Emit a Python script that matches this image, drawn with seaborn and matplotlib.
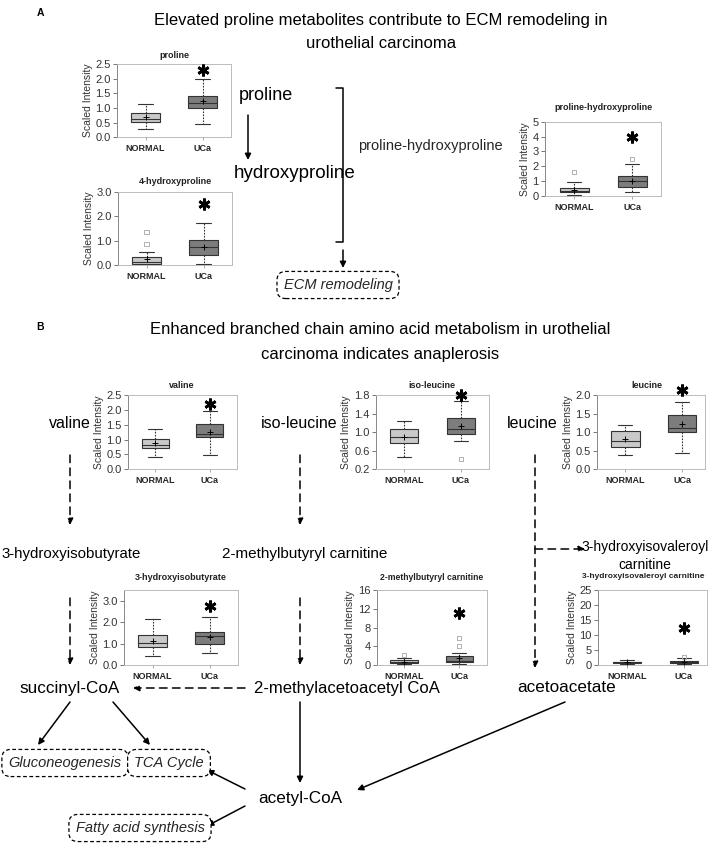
import numpy as np
import pandas as pd
import matplotlib
matplotlib.use('Agg')
import matplotlib.pyplot as plt
import seaborn as sns

# groups and metabolites shown in the small box plots
groups = ['NORMAL', 'UCa']
metabolites = ['proline', '4-hydroxyproline', 'proline-hydroxyproline',
               'valine', 'iso-leucine', 'leucine',
               '3-hydroxyisobutyrate', '2-methylbutyryl carnitine',
               '3-hydroxyisovaleroyl carnitine']

# five-number summaries (whisker low, q1, median, q3, whisker high)
normal_lo = [0.30, 0.02, 0.07, 0.42, 0.46, 0.38, 0.44, 0.14, 0.40]
normal_q1 = [0.52, 0.05, 0.24, 0.71, 0.77, 0.60, 0.83, 0.36, 0.65]
normal_med = [0.61, 0.12, 0.36, 0.81, 0.89, 0.77, 1.05, 0.57, 0.85]
normal_q3 = [0.83, 0.31, 0.53, 1.02, 1.06, 1.03, 1.41, 1.07, 1.10]
normal_hi = [1.14, 0.55, 0.93, 1.36, 1.25, 1.19, 2.16, 1.56, 1.60]
normal_mean = [0.68, 0.23, 0.42, 0.89, 0.89, 0.81, 1.13, 0.64, 0.90]
normal_outliers = [[], [0.85, 1.36], [1.62], [], [], [], [], [2.13], []]

uca_lo = [0.46, 0.04, 0.24, 0.49, 0.80, 0.45, 0.58, 0.14, 0.30]
uca_q1 = [0.99, 0.41, 0.62, 1.08, 0.97, 1.00, 0.98, 0.57, 0.75]
uca_med = [1.18, 0.72, 1.00, 1.20, 1.06, 1.10, 1.36, 0.92, 1.00]
uca_q3 = [1.41, 1.03, 1.33, 1.51, 1.30, 1.46, 1.56, 1.92, 1.45]
uca_hi = [1.98, 1.73, 2.13, 1.96, 1.68, 1.82, 2.23, 2.63, 2.20]
uca_mean = [1.24, 0.75, 1.04, 1.24, 1.13, 1.21, 1.33, 1.42, 1.10]
uca_outliers = [[], [], [2.47], [], [0.42], [], [], [4.05, 5.83], [2.60]]

# significance star height for UCa
star_y = [2.29, 2.50, 4.00, 2.20, 1.80, 2.13, 2.78, 11.0, 12.5]

# axis ranges / ticks per plot
y_limits = [(0, 2.5), (0, 3.0), (0, 5), (0, 2.5), (0.2, 1.8), (0, 2.0), (0, 3.5), (0, 16), (0, 25)]
y_ticks = [[0, 0.5, 1.0, 1.5, 2.0, 2.5], [0, 1, 2, 3], [0, 1, 2, 3, 4, 5],
           [0, 0.5, 1.0, 1.5, 2.0, 2.5], [0.2, 0.6, 1.0, 1.4, 1.8], [0, 0.5, 1.0, 1.5, 2.0],
           [0, 1, 2, 3], [0, 4, 8, 12, 16], [0, 5, 10, 15, 20, 25]]
y_fmt = ['{:.1f}', '{:.1f}', '{:.0f}', '{:.1f}', '{:.1f}', '{:.1f}', '{:.1f}', '{:.0f}', '{:.0f}']

sns.set_theme(style='white')
plt.rcParams['font.family'] = ['Liberation Sans', 'DejaVu Sans']

W, H = 709, 859
fig = plt.figure(figsize=(W / 100, H / 100), dpi=100)
bg = fig.add_axes([0, 0, 1, 1])
bg.set_xlim(0, W)
bg.set_ylim(H, 0)
bg.axis('off')

# pixel frames of the box plots: left, right, top, bottom, xlim, title x, title y, title size
frames = [(117, 231, 64, 137.3, (-0.5, 1.5), 174, 55, 6.5),
          (118, 232, 191.7, 265, (-0.5, 1.5), 175, 182, 6.5),
          (545, 661, 121.7, 196, (-0.5, 1.5), 603, 108, 6.5),
          (128, 237, 395, 469.3, (-0.5, 1.5), 182, 385, 6.5),
          (376, 489, 395, 469.3, (-0.5, 1.5), 432, 385, 6.5),
          (597, 705, 395, 469.3, (-0.5, 1.405), 647, 385, 6.5),
          (124, 238, 590.3, 665, (-0.5, 1.5), 181, 577, 6.5),
          (377, 487, 590, 665, (-0.49, 1.5), 432, 577, 6.2),
          (598, 707, 590, 665, (-0.52, 1.41), 643, 577, 6.0)]

box_colors = ['#c9c9c9', '#7d7d7d']

for i, name in enumerate(metabolites):
    left, right, top, bottom, xlim, tx, ty, tsize = frames[i]
    ax = fig.add_axes([left / W, 1 - bottom / H, (right - left) / W, (bottom - top) / H])
    vals_n = [normal_lo[i], normal_q1[i], normal_med[i], normal_q3[i], normal_hi[i]]
    vals_u = [uca_lo[i], uca_q1[i], uca_med[i], uca_q3[i], uca_hi[i]]
    df = pd.DataFrame({'group': ['NORMAL'] * 5 + ['UCa'] * 5, 'value': vals_n + vals_u})
    sns.boxplot(data=df, x='group', y='value', hue='group', palette=box_colors,
                order=groups, hue_order=groups, width=0.5, whis=(0, 100),
                showfliers=False, linecolor='#333333', linewidth=0.8,
                whiskerprops=dict(linestyle=(0, (1.5, 1.2))),
                capprops=dict(linestyle='-'), legend=False, ax=ax)
    ax.scatter([0, 1], [normal_mean[i], uca_mean[i]], marker='+', s=22,
               color='black', linewidths=0.7, zorder=5)
    for pos, outl in [(0, normal_outliers[i]), (1, uca_outliers[i])]:
        if outl:
            ax.scatter([pos] * len(outl), outl, marker='s', s=9, facecolors='none',
                       edgecolors='#b0b0b0', linewidths=0.7, zorder=4)
    ax.plot([1], [star_y[i]], marker=(6, 2, 0), markersize=8.5, mew=2.0,
            color='black', clip_on=False, zorder=6)
    ax.set_xlim(*xlim)
    ax.set_ylim(*y_limits[i])
    ax.set_yticks(y_ticks[i])
    ax.set_yticklabels([y_fmt[i].format(t) for t in y_ticks[i]])
    ax.set_xlabel('')
    ax.set_ylabel('Scaled Intensity', fontsize=7.5, labelpad=2, color='#333333')
    ax.tick_params(axis='y', left=True, length=3, width=0.7, color='#777777',
                   labelsize=8, pad=1.5, labelcolor='#333333')
    ax.tick_params(axis='x', bottom=True, length=2, width=0.6, color='#999999',
                   labelsize=6.5, pad=3)
    for lab in ax.get_xticklabels():
        lab.set_fontweight('bold')
    for side, sp in ax.spines.items():
        sp.set_visible(True)
        sp.set_linewidth(0.7)
        sp.set_color('#bbbbbb')
    ax.spines['left'].set_color('#888888')
    bg.text(tx, ty, name, fontsize=tsize, fontweight='bold',
            ha='center', va='center', color='#222222')


def arrow(x0, y0, x1, y1, dashed=False):
    bg.annotate('', xy=(x1, y1), xytext=(x0, y0),
                arrowprops=dict(arrowstyle='-|>', color='black', lw=1.1,
                                mutation_scale=9, shrinkA=0, shrinkB=0,
                                linestyle=(0, (5, 3.5)) if dashed else '-'))


def label(x, y, s, size=12.5, **kw):
    bg.text(x, y, s, fontsize=size, ha='center', va='center', color='black', **kw)


def boxed(x, y, s):
    bg.text(x, y, s, fontsize=10.5, ha='center', va='center', style='italic',
            bbox=dict(boxstyle='round,pad=0.45,rounding_size=0.6', fc='white',
                      ec='black', lw=0.9, ls=(0, (3, 2))))


# panel A
label(40, 13, 'A', size=7.5, fontweight='bold')
label(381, 20, 'Elevated proline metabolites contribute to ECM remodeling in', size=12)
label(381, 44, 'urothelial carcinoma', size=12)
label(266, 96, 'proline', size=13)
arrow(248, 115, 248, 160)
label(295, 173, 'hydroxyproline', size=13.5)
bg.plot([336, 343, 343, 336], [88, 88, 242, 242], color='black', lw=1.1)
bg.text(358, 146, 'proline-hydroxyproline', fontsize=10.5, ha='left', va='center')
arrow(343, 250, 343, 268)
boxed(338, 285, 'ECM remodeling')

# panel B
label(40, 327, 'B', size=7.5, fontweight='bold')
label(380, 330, 'Enhanced branched chain amino acid metabolism in urothelial', size=12)
label(380, 355, 'carcinoma indicates anaplerosis', size=12)
label(70, 423, 'valine', size=11.5)
label(299, 423, 'iso-leucine', size=11.5)
label(532, 423, 'leucine', size=11.5)
arrow(70, 455, 70, 525, dashed=True)
arrow(300, 455, 300, 525, dashed=True)
arrow(535, 455, 535, 668, dashed=True)
arrow(535, 549, 585, 549, dashed=True)
label(71, 554, '3-hydroxyisobutyrate', size=10.8)
label(305, 554, '2-methylbutyryl carnitine', size=11)
label(645, 547, '3-hydroxyisovaleroyl', size=10)
label(645, 565, 'carnitine', size=10)
arrow(70, 598, 70, 665, dashed=True)
arrow(300, 598, 300, 665, dashed=True)
label(70, 688, 'succinyl-CoA', size=12.3)
label(347, 689, '2-methylacetoacetyl CoA', size=12)
label(567, 688, 'acetoacetate', size=12.3)
arrow(245, 688, 133, 688, dashed=True)
arrow(70, 702, 38, 745)
arrow(113, 702, 150, 745)
arrow(300, 702, 300, 783)
arrow(565, 702, 357, 790)
label(300, 798, 'acetyl-CoA', size=12.3)
arrow(245, 789, 207, 770)
arrow(245, 806, 207, 826)
boxed(65, 763, 'Gluconeogenesis')
boxed(169, 763, 'TCA Cycle')
boxed(140, 828, 'Fatty acid synthesis')

fig.savefig('out.png', dpi=100)
